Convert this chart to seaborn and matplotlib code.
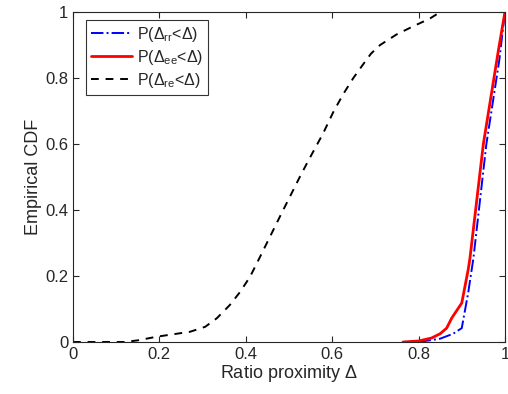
import matplotlib
matplotlib.use("Agg")
import matplotlib.pyplot as plt
import seaborn as sns

# values
re_x = [0, 0.12, 0.15, 0.194, 0.271, 0.306, 0.333, 0.363, 0.387, 0.41, 0.433, 0.456, 0.479,
        0.502, 0.525, 0.541, 0.552, 0.579, 0.603, 0.626, 0.649, 0.672, 0.69, 0.711, 0.749,
        0.788, 0.826, 0.85, 1.0]
re_y = [0, 0, 0.005, 0.016, 0.031, 0.046, 0.072, 0.112, 0.152, 0.198, 0.258, 0.319, 0.38,
        0.44, 0.50, 0.54, 0.567, 0.632, 0.698, 0.752, 0.80, 0.842, 0.874, 0.90, 0.932,
        0.957, 0.98, 1.0, 1.0]

ee_x = [0.764, 0.80, 0.83, 0.85, 0.865, 0.877, 0.90, 0.915, 0.919, 0.95, 0.985, 1.0]
ee_y = [0, 0.003, 0.012, 0.025, 0.042, 0.073, 0.118, 0.22, 0.254, 0.60, 0.885, 1.0]

rr_x = [0.80, 0.85, 0.88, 0.90, 0.915, 0.927, 0.957, 0.987, 1.0]
rr_y = [0, 0.01, 0.025, 0.042, 0.15, 0.254, 0.60, 0.855, 1.0]

labels = [r"P($\Delta_{\mathrm{rr}}$<$\Delta$)",
          r"P($\Delta_{\mathrm{ee}}$<$\Delta$)",
          r"P($\Delta_{\mathrm{re}}$<$\Delta$)"]

sns.set_style("ticks")
plt.rcParams["font.family"] = ["Liberation Sans", "DejaVu Sans"]
plt.rcParams["mathtext.fontset"] = "custom"
plt.rcParams["mathtext.rm"] = "Liberation Sans"
plt.rcParams["mathtext.it"] = "Liberation Sans"

fig = plt.figure(figsize=(5.08, 3.94), dpi=100)
ax = fig.add_axes([0.1437, 0.132, 0.8503, 0.8375])

sns.lineplot(x=rr_x, y=rr_y, ax=ax, color="blue", linestyle="-.", linewidth=1.4, label=labels[0])
sns.lineplot(x=ee_x, y=ee_y, ax=ax, color="red", linestyle="-", linewidth=2.0, label=labels[1])
sns.lineplot(x=re_x, y=re_y, ax=ax, color="black", linestyle=(0, (4, 3.5)), linewidth=1.4, label=labels[2])

ax.set_xlim(0, 1)
ax.set_ylim(0, 1)
ax.set_xticks([0, 0.2, 0.4, 0.6, 0.8, 1])
ax.set_xticklabels(["0", "0.2", "0.4", "0.6", "0.8", "1"])
ax.set_yticks([0, 0.2, 0.4, 0.6, 0.8, 1])
ax.set_yticklabels(["0", "0.2", "0.4", "0.6", "0.8", "1"])
ax.tick_params(direction="in", top=True, right=True, labelsize=12, colors="#262626", length=4)
for s in ax.spines.values():
    s.set_color("#262626")
    s.set_linewidth(0.8)
ax.set_xlabel(r"Ratio proximity $\Delta$", fontsize=13, color="#262626", labelpad=1)
ax.set_ylabel("Empirical CDF", fontsize=13, color="#262626", labelpad=2)

leg = ax.legend(loc="upper left", bbox_to_anchor=(0.03, 0.975), fontsize=11.5,
                frameon=True, fancybox=False, edgecolor="black", handlelength=2.6,
                handletextpad=0.3, borderpad=0.3, labelspacing=0.25, borderaxespad=0)
leg.get_frame().set_linewidth(0.8)

fig.savefig("out.png", dpi=100)
